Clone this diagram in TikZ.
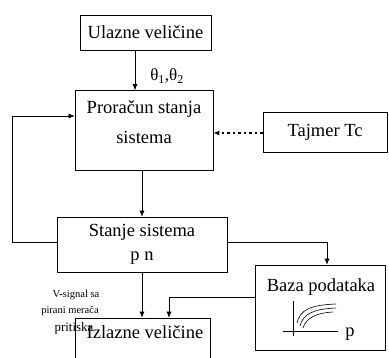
\documentclass[tikz,border=0pt]{standalone}
\usepackage{fontspec}
\setmainfont{Liberation Serif}
\usetikzlibrary{arrows.meta,calc}
\begin{document}
\begin{tikzpicture}[x=1pt,y=-1pt,
  box/.style={draw,line width=0.7pt,inner sep=0pt},
  big/.style={font=\fontsize{18.5}{24}\selectfont},
  small/.style={font=\fontsize{10.5}{12}\selectfont,inner sep=0pt},
  arr/.style={line width=0.6pt,-{Latex[length=6pt,width=5pt]}},
  ln/.style={line width=0.6pt}]
\clip (0,0) rectangle (389,357);
\useasboundingbox (0,0) rectangle (389,357);
% boxes
\node[box,big,minimum width=131pt,minimum height=35pt] (ul) at (145.5,32.5) {Ulazne veličine};
\node[box,minimum width=138pt,minimum height=80pt] (pro) at (144,130.5) {};
\node[big,align=center,font=\fontsize{18.5}{30}\selectfont] (prot) at (144,122) {Proračun stanja\\sistema};
\node[box,big,minimum width=124pt,minimum height=40pt] (taj) at (325,132) {Tajmer Tc};
\node[box,big,align=center,minimum width=170pt,minimum height=55pt] (sta) at (142,244.5) {Stanje sistema\\p n};
\node[box,minimum width=130pt,minimum height=85pt] (baz) at (320,307.5) {};
\node[big] (bazt) at (321,287) {Baza podataka};
\node[box,minimum width=135pt,minimum height=60pt] (izl) at (142.5,348) {};
\node[big] (izlt) at (145,332) {Izlazne veličine};
% labels
\node[font=\fontsize{17}{18}\selectfont] (th) at (167,76) {θ\textsubscript{1},θ\textsubscript{2}};
\node[small] (l1) at (76,295) {V-signal sa};
\node[small] (l2) at (70,311) {pirani merača};
\node[font=\fontsize{13}{14}\selectfont,inner sep=0pt] (l3) at (74,328) {pritiska};
% coordinates
\coordinate (xa) at (135,0);
\coordinate (xb) at (142,0);
\coordinate (xc) at (327,0);
\coordinate (xd) at (169,0);
\coordinate (xl) at (12,0);
\coordinate (ya) at (0,116);
\coordinate (yb) at (0,242);
\coordinate (yc) at (0,297);
\coordinate (yt) at (0,133);
% connectors
\draw[arr] (ul.south -| xa) -- (pro.north -| xa);
\draw[arr,line width=1.1pt,dash pattern=on 2.5pt off 3pt] (taj.west |- yt) -- (pro.east |- yt);
\draw[arr] (pro.south -| xb) -- (sta.north -| xb);
\draw[arr] (sta.west |- yb) -| (xl |- ya) -- (pro.west |- ya);
\draw[arr] (sta.east |- yb) -| (baz.north -| xc);
\draw[arr] (sta.south -| xb) -- (izl.north -| xb);
\draw[arr] (baz.west |- yc) -| (izl.north -| xd);
% small plot
\draw[ln] (293,301) -- (293,336);
\draw[ln] (283,331) -- (338,331);
\draw[ln] (297,323) .. controls (300,310) and (310,305) .. (336,304);
\draw[ln] (300,326) .. controls (303,314) and (313,309) .. (336,308);
\draw[ln] (303,328) .. controls (306,318) and (316,313) .. (333,312);
\node[big] (pp) at (350,334) {p};
\end{tikzpicture}
\end{document}
